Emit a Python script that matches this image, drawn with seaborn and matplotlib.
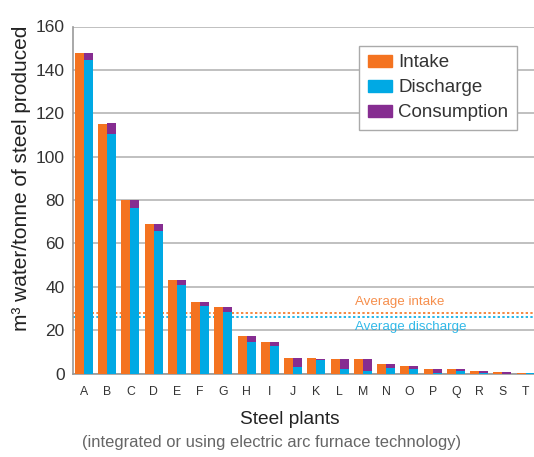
import pandas as pd
import matplotlib.pyplot as plt
import seaborn as sns
from matplotlib.patches import Patch

plants = list("ABCDEFGHIJKLMNOPQRST")
intake = [148, 115, 80, 69, 43, 33, 30.5, 17.5, 14.5, 7, 7, 6.5, 6.5, 4.5, 3.5, 2, 2, 1.2, 0.8, 0.3]
discharge = [144.5, 110.5, 76.5, 65.5, 41, 31, 28.5, 14.5, 12.5, 3, 6, 2, 1, 2.7, 2, 0.3, 1.2, 0.3, 0, 0.3]
consumption = [3.5, 4.8, 3.5, 3.5, 2, 2, 2, 3, 2, 4, 0.8, 4.5, 5.5, 1.8, 1.5, 1.7, 0.8, 0.9, 0.8, 0]
avg_intake = 28
avg_discharge = 26

ORANGE = "#F47320"
BLUE = "#00A9E4"
PURPLE = "#862D91"

sns.set_style("white")
plt.rcParams["font.family"] = ["Liberation Sans", "DejaVu Sans"]

# two bars per plant: intake | discharge stacked with consumption
outflow = [d + c for d, c in zip(discharge, consumption)]
top_df = pd.DataFrame({
    "plant": plants * 2,
    "kind": ["in"] * len(plants) + ["out"] * len(plants),
    "value": intake + outflow,
})
low_df = pd.DataFrame({
    "plant": plants * 2,
    "kind": ["in"] * len(plants) + ["out"] * len(plants),
    "value": intake + discharge,
})

fig = plt.figure(figsize=(5.34, 4.57), dpi=100)
ax = fig.add_axes([73 / 534, 1 - 373.5 / 457, 461 / 534, 347 / 457])

sns.barplot(data=top_df, x="plant", y="value", hue="kind", palette=[ORANGE, PURPLE],
            width=0.775, saturation=1, legend=False, errorbar=None, ax=ax,
            linewidth=0, zorder=3)
sns.barplot(data=low_df, x="plant", y="value", hue="kind", palette=[ORANGE, BLUE],
            width=0.775, saturation=1, legend=False, errorbar=None, ax=ax,
            linewidth=0, zorder=3)

# averages (behind bars)
ax.axhline(avg_intake, color=ORANGE, ls=(0, (1.2, 1.2)), lw=1.4, zorder=2, alpha=0.85)
ax.axhline(avg_discharge, color=BLUE, ls=(0, (1.2, 1.2)), lw=1.4, zorder=2, alpha=0.85)
ax.text(11.65, 33.0, "Average intake", color=ORANGE, fontsize=9.6, va="center", ha="left", alpha=0.8)
ax.text(11.65, 21.6, "Average discharge", color=BLUE, fontsize=9.6, va="center", ha="left", alpha=0.8)

ax.set_ylim(0, 160)
ax.set_xlim(-0.473, 19.36)
ax.set_yticks(range(0, 161, 20))
ax.yaxis.grid(True, color="#b5b5b5", lw=1.2)
ax.set_axisbelow(True)

ax.tick_params(axis="y", length=0, pad=6, labelsize=12.5, labelcolor="#333333")
ax.tick_params(axis="x", which="major", length=0, pad=9, labelsize=8.8, labelcolor="#333333")
ax.set_xticks([i + 0.5 for i in range(len(plants) - 1)], minor=True)
ax.tick_params(axis="x", which="minor", direction="in", length=5, width=1.5, color="#cccccc")

for s in ["top", "right"]:
    ax.spines[s].set_visible(False)
for s in ["left", "bottom"]:
    ax.spines[s].set_color("#999999")
    ax.spines[s].set_linewidth(1.2)

ax.set_xlabel("")
ax.set_ylabel("")
fig.text(290 / 534, 1 - 420 / 457, "Steel plants", fontsize=13.8, color="#222222",
         ha="center", va="center")
fig.text(272 / 534, 1 - 442 / 457, "(integrated or using electric arc furnace technology)",
         fontsize=11.9, color="#666666", ha="center", va="center")
fig.text(22 / 534, 1 - 178.5 / 457, "m³ water/tonne of steel produced", fontsize=15,
         color="#222222", ha="center", va="center", rotation=90)

handles = [Patch(color=ORANGE, label="Intake"),
           Patch(color=BLUE, label="Discharge"),
           Patch(color=PURPLE, label="Consumption")]
leg = ax.legend(handles=handles, loc="upper right",
                bbox_to_anchor=((517 - 73) / 461, (373.5 - 46) / 347),
                fontsize=13.5, frameon=True, fancybox=False, handlelength=1.28,
                handleheight=0.62, handletextpad=0.35, labelspacing=0.42,
                borderpad=0.45, borderaxespad=0, labelcolor="#333333")
leg.get_frame().set_edgecolor("#aaaaaa")
leg.get_frame().set_linewidth(1.0)
leg.get_frame().set_alpha(1)

plt.savefig("out.png", dpi=100)
plt.close()
